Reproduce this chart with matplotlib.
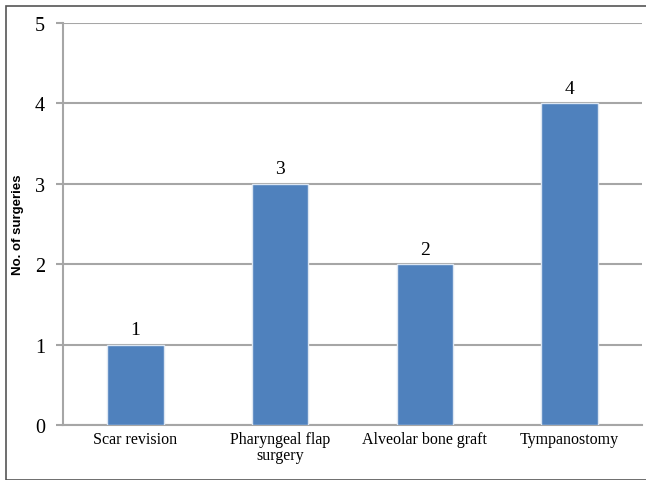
import matplotlib.pyplot as plt
from matplotlib.patches import Rectangle

# dati
categories = ["Scar revision", "Pharyngeal flap\nsurgery", "Alveolar bone graft", "Tympanostomy"]
counts = [1, 3, 2, 4]
y_ticks = [0, 1, 2, 3, 4, 5]

BAR_COLOR = "#4F81BD"
GRID_COLOR = "#A6A6A6"
SERIF = "Liberation Serif"

fig = plt.figure(figsize=(6.46, 4.81), dpi=100)
ax = fig.add_axes([0.0975, 0.1143, 0.8963, 0.8357])

x = range(len(categories))
ax.bar(x, counts, width=0.39, color=BAR_COLOR, edgecolor="#DCE6F2", linewidth=1.0, zorder=3)

for i, v in zip(x, counts):
    ax.text(i, v + 0.08, str(v), ha="center", va="bottom", fontsize=14, family=SERIF)

ax.set_xlim(-0.5, len(categories) - 0.5)
ax.set_ylim(0, 5)
ax.set_yticks(y_ticks)
ax.set_yticklabels([str(t) for t in y_ticks], fontsize=14.5, family=SERIF)
ax.set_xticks(list(x))
ax.set_xticklabels(categories, fontsize=11.5, family=SERIF, linespacing=1.0)

ax.grid(axis="y", color=GRID_COLOR, linewidth=1.5, zorder=0)
for s in ["top", "right"]:
    ax.spines[s].set_visible(False)
ax.spines["left"].set_color(GRID_COLOR)
ax.spines["left"].set_linewidth(1.5)
ax.spines["bottom"].set_color(GRID_COLOR)
ax.spines["bottom"].set_linewidth(1.5)
ax.tick_params(axis="y", length=5, width=1.5, color=GRID_COLOR, pad=8)
ax.tick_params(axis="x", length=0, pad=4)

ax.set_ylabel("No. of surgeries", fontsize=9.5, fontweight="bold", family="Liberation Sans", labelpad=8)

# cornice esterna
fig.patches.append(Rectangle((6 / 646, 0), 1.0, 1 - 7 / 481, transform=fig.transFigure,
                             fill=False, edgecolor="#555555", linewidth=1.2))

plt.savefig("out.png", dpi=100)
plt.close()
